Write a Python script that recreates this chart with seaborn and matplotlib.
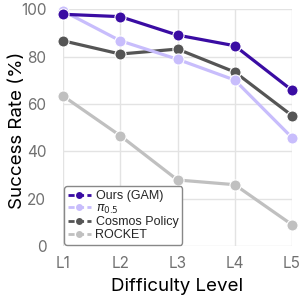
import pandas as pd
import matplotlib
matplotlib.use("Agg")
import matplotlib.pyplot as plt
import seaborn as sns

sns.set_theme(style="whitegrid")
plt.rcParams['font.family'] = ['Inter', 'DejaVu Sans']

levels = ["L1", "L2", "L3", "L4", "L5"]
ours = [97.9, 96.9, 89.1, 84.6, 65.8]
pi05 = [99.3, 86.7, 78.9, 70.1, 45.8]
cosmos = [86.7, 81.1, 83.2, 73.5, 55.1]
rocket = [63.4, 46.6, 27.9, 25.9, 9.0]

methods = ["Ours (GAM)", r"$\pi_{0.5}$", "Cosmos Policy", "ROCKET"]
colors = ["#3a0ca3", "#c8bdfc", "#555555", "#c0c0c0"]

rows = []
for m, vals in zip(methods, [ours, pi05, cosmos, rocket]):
    for i, v in enumerate(vals):
        rows.append({"level": i, "rate": v, "method": m})
df = pd.DataFrame(rows)

fig = plt.figure(figsize=(3.02, 3.01), dpi=100)
ax = fig.add_axes([63 / 302, 1 - 246 / 301, 229 / 302, 236.7 / 301])

sns.lineplot(data=df, x="level", y="rate", hue="method", hue_order=methods,
             palette=colors, marker="o", markersize=8, linewidth=2.3,
             markeredgecolor="white", markeredgewidth=0.8, ax=ax, clip_on=False)

# "Ours" on top, ROCKET at the back
for z, line in zip([5, 4, 3, 2], ax.lines[:4]):
    line.set_zorder(z)

ax.set_xlim(0, 4)
ax.set_ylim(0, 100)
ax.set_xticks(range(5))
ax.set_xticklabels(levels)
ax.set_yticks([0, 20, 40, 60, 80, 100])
for s in ax.spines.values():
    s.set_visible(False)
ax.grid(True, color="#e3e3e3", linewidth=1)
ax.tick_params(axis="both", labelsize=11, labelcolor="#707070", length=4,
               color="#dddddd", width=1, pad=3)
ax.tick_params(axis="y", length=0, pad=12)
ax.set_xlabel("Difficulty Level", fontsize=13.5, color="black", labelpad=5)
ax.set_ylabel("Success Rate (%)", fontsize=13.5, color="black")
ax.yaxis.set_label_coords(-0.16, 0.49)

leg = ax.legend(loc="lower left", handlelength=1.8, handletextpad=0.4,
                labelspacing=0.05, borderpad=0.3, borderaxespad=0.1, frameon=True,
                prop={"family": ["Liberation Sans", "DejaVu Sans"], "size": 9})
leg.set_zorder(10)
leg.get_frame().set_edgecolor("#888888")
leg.get_frame().set_linewidth(1)
leg.get_frame().set_alpha(1)
for h in leg.legend_handles:
    h.set_linestyle((0, (2.2, 1.2)))
    h.set_linewidth(2)
    h.set_markersize(5)
    h.set_markeredgewidth(0)

fig.savefig("out.png", dpi=100)
